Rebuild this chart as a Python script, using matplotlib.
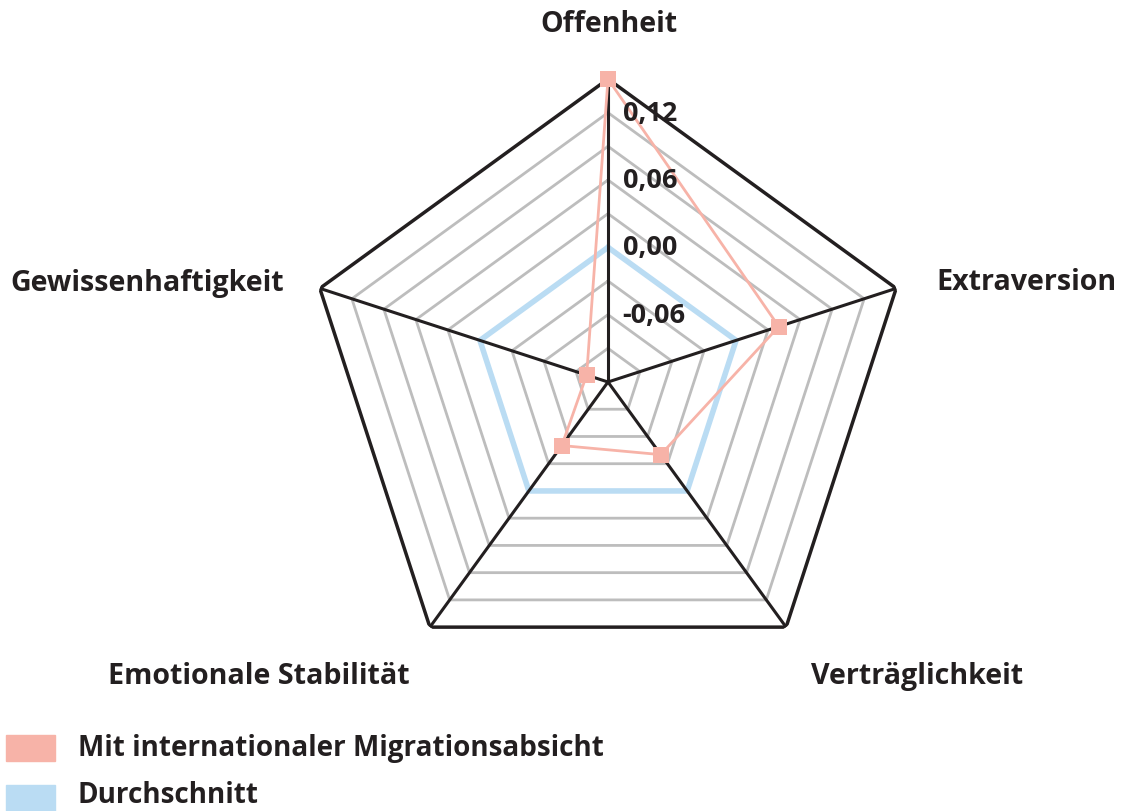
import numpy as np
import matplotlib
matplotlib.use("Agg")
import matplotlib.pyplot as plt
from matplotlib.patches import Rectangle

# Daten
categories = ["Offenheit", "Extraversion", "Verträglichkeit",
              "Emotionale Stabilität", "Gewissenhaftigkeit"]
migration = [0.15, 0.04, -0.04, -0.05, -0.10]
average = [0.00, 0.00, 0.00, 0.00, 0.00]
series_labels = ["Mit internationaler Migrationsabsicht", "Durchschnitt"]
ring_values = [-0.09, -0.06, -0.03, 0.00, 0.03, 0.06, 0.09, 0.12]
tick_values = [0.12, 0.06, 0.00, -0.06]
tick_labels = ["0,12", "0,06", "0,00", "-0,06"]
r_min, r_max = -0.12, 0.15

RED = "#f7b3a8"
BLUE = "#badcf3"
DARK = "#231f20"
GRAY = "#bdbdbd"

plt.rcParams["font.family"] = ["Open Sans", "DejaVu Sans"]

W, H = 1128, 812
fig = plt.figure(figsize=(W / 100, H / 100), dpi=100)

cx, cy, R = 608 / W, 1 - 383 / H, 303
ax = fig.add_axes([cx - R / W, cy - R / H, 2 * R / W, 2 * R / H], projection="polar")
ax.set_theta_offset(np.pi / 2)
ax.set_theta_direction(-1)
ax.set_ylim(r_min, r_max)
ax.grid(False)
ax.set_xticks([])
ax.set_yticks([])
ax.spines["polar"].set_visible(False)
ax.patch.set_alpha(0)

n = len(categories)
angles = np.linspace(0, 2 * np.pi, n, endpoint=False)
closed = np.append(angles, angles[0])

# graue Ringe
for v in ring_values:
    ax.plot(closed, [v] * (n + 1), color=GRAY, lw=2, zorder=1)

# Durchschnitt
ax.plot(closed, average + average[:1], color=BLUE, lw=4, zorder=2)

# Speichen + Außenrahmen
for a in angles:
    ax.plot([a, a], [r_min, r_max], color=DARK, lw=2.2, zorder=3)
ax.plot(closed, [r_max] * (n + 1), color=DARK, lw=2.5, zorder=3)

# Migrationsabsicht
ax.plot(closed, migration + migration[:1], color=RED, lw=2, zorder=4,
        marker="s", markersize=12, markeredgewidth=0, clip_on=False)

# Achsenbeschriftung
for v, lab in zip(tick_values, tick_labels):
    ax.annotate(lab, xy=(0, v), xytext=(10.5, 0), textcoords="offset points",
                ha="left", va="center", fontsize=19.5, fontweight="bold",
                color=DARK, zorder=6)

# Kategorien
label_pos = [(609, 25, "center"), (936, 283, "left"), (811, 677, "left"),
             (108, 677, "left"), (10, 283, "left")]
for cat, (x, y, ha) in zip(categories, label_pos):
    fig.text(x / W, 1 - y / H, cat, ha=ha, va="center", fontsize=20.6,
             fontweight="bold", color=DARK)

# Legende
for i, (lab, col) in enumerate(zip(series_labels, [RED, BLUE])):
    y0 = 736 + i * 50
    fig.patches.append(Rectangle((6 / W, 1 - (y0 + 26) / H), 49 / W, 26 / H,
                                 transform=fig.transFigure, color=col))
    fig.text(78 / W, 1 - (y0 + 13 - 3 * i) / H, lab, ha="left", va="center",
             fontsize=20.1, fontweight="bold", color=DARK)

fig.savefig("out.png", dpi=100)
